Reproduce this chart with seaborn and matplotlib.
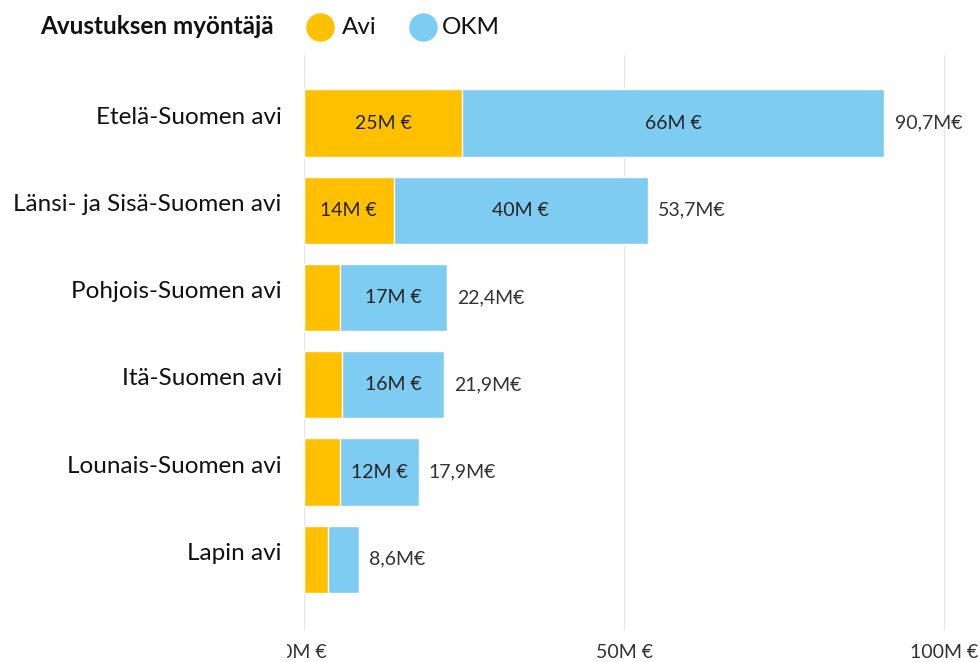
import pandas as pd
import numpy as np
import matplotlib
matplotlib.use("Agg")
import matplotlib.pyplot as plt
import matplotlib.patches as mpatches
from matplotlib.lines import Line2D
import matplotlib.transforms as mtransforms
import seaborn as sns

# Avustukset aluehallintovirastoittain (M€)
alueet = ["Etelä-Suomen avi", "Länsi- ja Sisä-Suomen avi", "Pohjois-Suomen avi",
          "Itä-Suomen avi", "Lounais-Suomen avi", "Lapin avi"]
avi = [24.7, 14.0, 5.6, 5.9, 5.6, 3.8]
okm = [66.0, 39.7, 16.8, 16.0, 12.3, 4.8]
yhteensa = [90.7, 53.7, 22.4, 21.9, 17.9, 8.6]
xtikit = [0, 50, 100]
xtikit_teksti = ["0M €", "50M €", "100M €"]
sarjat = ["Avi", "OKM"]

df = pd.DataFrame({"Alue": alueet, "Avi": avi, "OKM": okm, "Yhteensa": yhteensa})
df["Pino"] = df["Avi"] + df["OKM"]

keltainen = "#FFC000"
sininen = "#7FCCF2"

sns.set_theme(style="white")
plt.rcParams["font.family"] = ["Lato", "DejaVu Sans"]

W, H = 980, 662
fig = plt.figure(figsize=(W / 100, H / 100), dpi=100)
ax = fig.add_axes([304 / W, 1 - 630 / H, 1 - 304 / W, (630 - 55) / H])

# pinotut palkit: ensin koko pituus (OKM), päälle Avi
sns.barplot(data=df, x="Pino", y="Alue", color=sininen, orient="h",
            width=0.77, ax=ax, saturation=1)
sns.barplot(data=df, x="Avi", y="Alue", color=keltainen, orient="h",
            width=0.77, ax=ax, saturation=1)

ax.set_xlim(0, (W - 304) / 6.4)
ax.set_ylim(5.81, -0.78)
ax.set_xlabel("")
ax.set_ylabel("")
for s in ax.spines.values():
    s.set_visible(False)

ax.set_xticks(xtikit)
ax.set_xticklabels(xtikit_teksti, fontsize=14, color="#333333")
ax.xaxis.grid(True, color="#E6E6E6", linewidth=1)
ax.set_axisbelow(True)
ax.tick_params(axis="x", length=0, pad=10)
ax.tick_params(axis="y", length=0, pad=16, labelsize=17.5, labelcolor="#111111")

# y-tekstit hieman palkin keskikohdan yläpuolelle
siirto = mtransforms.ScaledTranslation(0, 8 / 100, fig.dpi_scale_trans)
for lbl in ax.get_yticklabels():
    lbl.set_transform(lbl.get_transform() + siirto)

# 0M € leikkautuu vasemmalta kuten alkuperäisessä
leikkaus = mpatches.Rectangle((287 / W, 0), 1, 1, transform=fig.transFigure)
nolla = ax.xaxis.get_major_ticks()[0].label1
nolla.set_clip_on(True)
nolla.set_clip_path(leikkaus)

# arvot palkkien sisään ja perään
for i, r in df.iterrows():
    if r["Avi"] > 8:
        ax.text(r["Avi"] / 2, i, f"{round(r['Avi'])}M €", ha="center", va="center",
                fontsize=14, color="#252423")
    if r["OKM"] > 8:
        ax.text(r["Avi"] + r["OKM"] / 2, i, f"{round(r['OKM'])}M €", ha="center",
                va="center", fontsize=14, color="#252423")
    ax.text(r["Pino"] + 1.6, i, f"{r['Yhteensa']:.1f}".replace(".", ",") + "M€",
            ha="left", va="center", fontsize=14, color="#333333")

# selite
yl = 1 - 27 / H
fig.text(40 / W, yl, "Avustuksen myöntäjä", fontsize=17.5, fontweight="bold",
         ha="left", va="center", color="#111111")
for nimi, vari, xc, xt in zip(sarjat, [keltainen, sininen], [320, 423], [342, 442]):
    fig.add_artist(Line2D([xc / W], [yl], marker="o", markersize=19.5, color=vari,
                          linestyle="", transform=fig.transFigure))
    fig.text(xt / W, yl, nimi, fontsize=17.5, ha="left", va="center", color="#111111")

fig.savefig("out.png", dpi=100)
